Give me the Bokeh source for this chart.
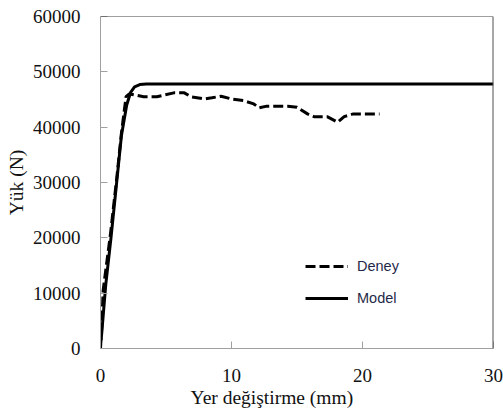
from bokeh.plotting import figure
from bokeh.models import Range1d, Legend, LegendItem, Span, Title, PrintfTickFormatter
from bokeh.embed import file_html
from bokeh.resources import INLINE

# ---- data ----
x_ticks = [0, 10, 20, 30]
y_ticks = [0, 10000, 20000, 30000, 40000, 50000, 60000]

model_x = [0.05, 0.4, 0.8, 1.2, 1.6, 2.0, 2.3, 2.6, 3.0, 3.5, 30.0]
model_y = [1500, 11500, 20000, 29200, 38500, 44000, 46300, 47300, 47700, 47800, 47800]

deney_x = [0.0, 0.1, 0.2, 0.75, 1.25, 1.6, 1.95, 2.2, 3.3, 4.3, 5.6, 6.4, 6.9, 7.9, 8.5,
           9.2, 10.0, 10.9, 11.7, 12.1, 12.7, 14.3, 15.0, 15.8, 16.3, 17.3, 18.1, 18.6,
           19.3, 21.3]
deney_y = [0, 4000, 10500, 20500, 31000, 39000, 45500, 46000, 45500, 45500, 46200, 46200,
           45500, 45100, 45300, 45600, 45100, 44800, 44200, 43500, 43800, 43800, 43600,
           42400, 41900, 41900, 40900, 41900, 42400, 42400]

x_label = "Yer değiştirme  (mm)"
y_label = "Yük (N)"

p = figure(width=503, height=412, output_backend="svg", toolbar_location=None,
           x_range=Range1d(0, 30), y_range=Range1d(0, 60000),
           min_border_left=100, min_border_right=10, min_border_top=16, min_border_bottom=64)
p.grid.visible = False
p.outline_line_color = None
p.background_fill_color = "white"
p.border_fill_color = "white"

for ax in (p.xaxis, p.yaxis):
    ax.axis_line_color = "#a0a0a0"
    ax.major_tick_line_color = "#a0a0a0"
    ax.major_tick_in = 7
    ax.major_tick_out = 0
    ax.minor_tick_line_color = None
    ax.major_label_text_font = "Liberation Serif"
    ax.major_label_text_font_size = "19px"
    ax.major_label_text_color = "#111111"

p.xaxis.ticker = x_ticks
p.yaxis.ticker = y_ticks
p.yaxis.formatter = PrintfTickFormatter(format="%d")
p.xaxis.formatter = PrintfTickFormatter(format="%d")
p.yaxis.major_label_standoff = 20
p.xaxis.major_label_standoff = 20

p.yaxis.axis_label = y_label
p.yaxis.axis_label_standoff = 3
p.yaxis.axis_label_text_font = "Liberation Serif"
p.yaxis.axis_label_text_font_size = "19.5px"
p.yaxis.axis_label_text_font_style = "normal"
p.yaxis.axis_label_text_color = "#111111"

p.add_layout(Title(text=x_label, align="left", offset=90, standoff=0,
                   text_font="Liberation Serif", text_font_size="19.5px",
                   text_font_style="normal", text_color="#111111"), "below")

# frame border top / right
p.add_layout(Span(location=60000, dimension="width", line_color="#404040", line_width=1))
p.add_layout(Span(location=30, dimension="height", line_color="#505050", line_width=2))

r_deney = p.line(deney_x, deney_y, line_color="black", line_width=3, line_dash="10 4")
r_model = p.line(model_x, model_y, line_color="black", line_width=3, line_join="round")

legend = Legend(items=[LegendItem(label="Deney", renderers=[r_deney]),
                       LegendItem(label="Model", renderers=[r_model])],
                location=(205, 40), padding=0, margin=0, spacing=12,
                glyph_width=43, glyph_height=20, label_height=20, label_standoff=9,
                background_fill_alpha=0, border_line_color=None,
                label_text_font="Liberation Sans", label_text_font_size="14.5px",
                label_text_color="#1f2a48")
p.add_layout(legend)

open("out.html", "w").write(file_html(p, INLINE))
